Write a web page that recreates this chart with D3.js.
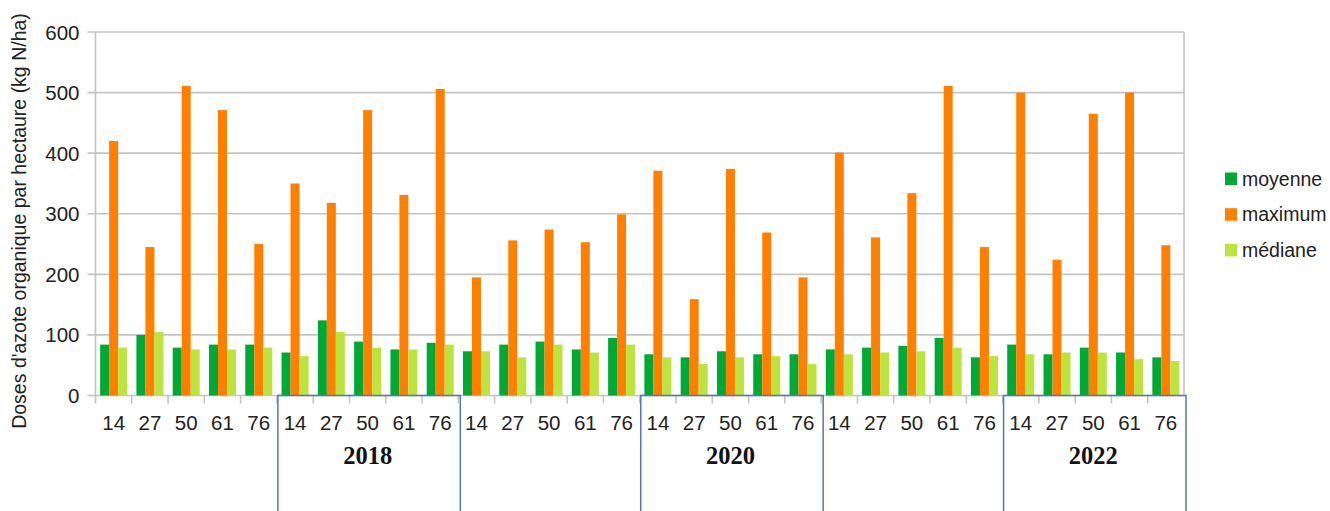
<!DOCTYPE html>
<html>
<head>
<meta charset="utf-8">
<script src="https://cdn.jsdelivr.net/npm/d3@7"></script>
<style>
  html, body { margin: 0; padding: 0; background: #fff; }
  svg { display: block; }
</style>
</head>
<body>
<svg id="chart" width="1330" height="511"></svg>
<script>
// ---- data ----
const departments = ["14", "27", "50", "61", "76"];
const groupLabels = ["", "2018", "", "2020", "", "2022"];
const boxedGroups = [1, 3, 5];
const seriesNames = ["moyenne", "maximum", "médiane"];
const seriesColors = ["#00a933", "#ff8000", "#bde33f"];
const moyenne = [84, 100, 79, 84, 84,   71, 124, 89, 76, 87,   73, 84, 89, 76, 95,   68, 63, 73, 68, 68,   76, 79, 82, 95, 63,   84, 68, 79, 71, 63];
const maximum = [420, 245, 511, 471, 250,   350, 318, 471, 331, 506,   195, 256, 274, 253, 299,   371, 159, 374, 269, 195,   401, 261, 334, 511, 245,   500, 224, 465, 500, 248];
const mediane = [79, 105, 76, 76, 79,   65, 105, 79, 76, 84,   73, 63, 84, 71, 84,   63, 52, 63, 65, 52,   68, 71, 73, 79, 65,   68, 71, 71, 60, 57];
const yTicks = [0, 100, 200, 300, 400, 500, 600];
const yTitle = "Doses d'azote organique par hectaure (kg N/ha)";

// ---- layout ----
const svg = d3.select("#chart");
const L = 95.5, R = 1184, T = 32, B = 395.5;

const cats = [];
groupLabels.forEach((g, gi) => departments.forEach((d, di) => cats.push({ id: gi + "-" + di, dep: d, group: gi })));
const values = [moyenne, maximum, mediane];

const x = d3.scaleBand().domain(cats.map(c => c.id)).range([L, R]).paddingInner(0.256).paddingOuter(0.128);
const xStep = d3.scaleBand().domain(cats.map(c => c.id)).range([L, R]).padding(0);
const xs = d3.scaleBand().domain(seriesNames).range([0, x.bandwidth()]);
const y = d3.scaleLinear().domain([0, 600]).range([B, T]);

// gridlines
svg.append("g").selectAll("line").data(yTicks).join("line")
  .attr("x1", L - 8).attr("x2", R)
  .attr("y1", d => y(d)).attr("y2", d => y(d))
  .attr("stroke", "#c4c4c4").attr("stroke-width", 1.6);

// y labels
svg.append("g").selectAll("text").data(yTicks).join("text")
  .attr("x", 79.5).attr("y", d => y(d) + 7.5)
  .attr("text-anchor", "end")
  .attr("font-family", "Liberation Sans, Arial, sans-serif")
  .attr("font-size", 20.5).attr("fill", "#222")
  .text(d => d);

// frame verticals
svg.append("line").attr("x1", L).attr("x2", L).attr("y1", T).attr("y2", B + 8)
  .attr("stroke", "#c4c4c4").attr("stroke-width", 1.6);
svg.append("line").attr("x1", R).attr("x2", R).attr("y1", T).attr("y2", B)
  .attr("stroke", "#c4c4c4").attr("stroke-width", 1.6);

// bars
const barG = svg.append("g");
seriesNames.forEach((s, si) => {
  barG.append("g").selectAll("rect").data(cats).join("rect")
    .attr("x", c => x(c.id) + xs(s))
    .attr("width", xs.bandwidth())
    .attr("y", (c, i) => y(values[si][i]))
    .attr("height", (c, i) => B - y(values[si][i]))
    .attr("fill", seriesColors[si]);
});

// category ticks
svg.append("g").selectAll("line").data(cats.slice(1)).join("line")
  .attr("x1", c => xStep(c.id)).attr("x2", c => xStep(c.id))
  .attr("y1", B).attr("y2", B + 8)
  .attr("stroke", "#c4c4c4").attr("stroke-width", 1.6);

// category labels
svg.append("g").selectAll("text").data(cats).join("text")
  .attr("x", c => xStep(c.id) + xStep.bandwidth() / 2)
  .attr("y", 429.5)
  .attr("text-anchor", "middle")
  .attr("font-family", "Liberation Sans, Arial, sans-serif")
  .attr("font-size", 20.5).attr("fill", "#222")
  .text(c => c.dep);

// group boxes and labels
const groupX = gi => xStep(gi + "-0");
const groupEnd = gi => xStep(gi + "-" + (departments.length - 1)) + xStep.bandwidth();
svg.append("g").selectAll("rect").data(boxedGroups).join("rect")
  .attr("x", gi => groupX(gi) + 1)
  .attr("y", B)
  .attr("width", gi => groupEnd(gi) - groupX(gi) + 1)
  .attr("height", 130)
  .attr("fill", "none")
  .attr("stroke", "#5677ad").attr("stroke-width", 1.5);
svg.append("g").selectAll("text").data(groupLabels.map((g, gi) => ({ g, gi })).filter(d => d.g)).join("text")
  .attr("x", d => (groupX(d.gi) + groupEnd(d.gi)) / 2)
  .attr("y", 463.5)
  .attr("text-anchor", "middle")
  .attr("font-family", "Liberation Serif, Times New Roman, serif")
  .attr("font-weight", "bold")
  .attr("font-size", 24.5).attr("fill", "#111")
  .text(d => d.g);

// y title
svg.append("text")
  .attr("transform", "translate(26,221) rotate(-90)")
  .attr("text-anchor", "middle")
  .attr("font-family", "Liberation Sans, Arial, sans-serif")
  .attr("font-size", 19.5).attr("fill", "#222")
  .text(yTitle);

// legend
const lg = svg.append("g").selectAll("g").data(seriesNames).join("g")
  .attr("transform", (d, i) => `translate(1225,${172.5 + i * 35.7})`);
lg.append("rect").attr("width", 12).attr("height", 12.5).attr("fill", (d, i) => seriesColors[i]);
lg.append("text").attr("x", 17).attr("y", 13)
  .attr("font-family", "Liberation Sans, Arial, sans-serif")
  .attr("font-size", 19.5).attr("fill", "#222")
  .text(d => d);
</script>
</body>
</html>
